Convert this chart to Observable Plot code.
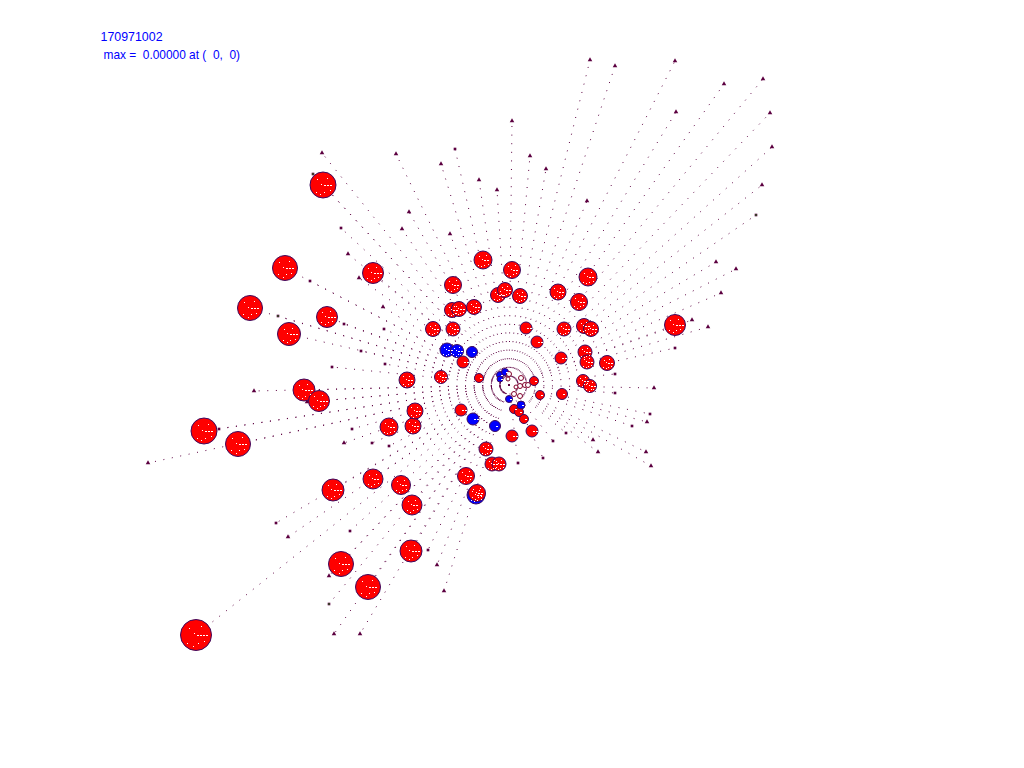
<!DOCTYPE html>
<html><head><meta charset="utf-8">
<style>html,body{margin:0;padding:0;background:#fff}svg{display:block}</style>
<script src="https://cdn.jsdelivr.net/npm/d3@7"></script>
<script src="https://cdn.jsdelivr.net/npm/@observablehq/plot@0.6"></script>
</head><body><div id="c"></div>
<script>
const sourceId = "170971002";
const maxLabel = "max =  0.00000 at (  0,  0)";
const origin = [509, 385];
const redSpots = [[323,185,13],[285,268,12.5],[373,273,10.5],[250,308,12.5],[327,317,10.5],[289,334,11.5],[304,390,11],[319,401,10.5],[204,431,13],[238,444,12.5],[407,380,8],[389,427,9],[413,426,8],[415,411,8],[441,377,6.5],[333,490,11],[373,479,10],[401,485,9.5],[412,505,10],[466,476,8.5],[477,493,8.5],[411,551,11],[341,564,12.5],[368,587,12.5],[196,635,15.5],[483,260,9],[512,270,8.5],[453,285,8.5],[588,277,9],[558,292,8],[579,302,8.5],[498,295,7.5],[505,290,7.5],[520,296,7.5],[452,310,7.5],[459,309,7.5],[474,307,7.5],[433,329,7.5],[453,329,7],[526,328,6],[564,329,7],[584,326,7.5],[591,329,7.5],[675,325,10.5],[537,342,6],[561,358,6],[585,352,7],[587,362,7],[607,363,7.5],[583,381,6.5],[590,386,6.5],[562,394,5.5],[463,362,6],[479,378,4.5],[461,410,6],[486,449,7],[512,436,6],[532,431,6],[492,464,7],[499,464,7],[540,395,4.5],[514,409,4.5],[519,412,4.5],[524,419,4.5],[534,381,4.5]];
const blueSpots = [[447,350,7],[457,351,6.5],[472,352,5.5],[473,419,6],[495,426,5.5],[476,495,9],[500,375,3.5],[500,379,3],[505,372,3.5],[509,399,3.5],[521,405,4]];
const hollowSpots = [[521,378,2.5],[520,386,2.5],[525,385,2.5],[528,385,2.5],[514,394,2.5],[520,396,2.5],[509,374,2.5],[508,379,2],[516,387,2]];
const triangleTips = [[590,60],[615,66],[675,61],[724,84],[763,79],[770,113],[772,147],[676,112],[762,185],[587,201],[716,262],[736,269],[721,293],[692,320],[708,327],[654,388],[647,422],[593,440],[598,452],[646,452],[651,466],[396,154],[441,164],[530,156],[546,169],[479,180],[497,190],[409,212],[402,229],[450,234],[512,121],[322,153],[348,254],[359,278],[383,307],[254,391],[307,402],[344,443],[148,463],[288,537],[329,576],[437,565],[444,591],[334,634],[360,634]];
const squareTips = [[341,228],[310,281],[344,324],[332,367],[385,364],[361,351],[219,429],[352,429],[372,443],[389,446],[350,531],[428,550],[384,329],[615,374],[615,393],[566,433],[632,426],[650,414],[553,441],[543,458],[675,348],[518,463],[276,523],[329,604],[313,174],[278,316],[756,215],[455,149]];
const greenTips = [[313,174],[278,316],[329,604],[756,215]];

const spots = [...blueSpots.slice(0,6).map(d=>[...d,"#0000ff"]),...redSpots.map(d=>[...d,"#ff0000"]),...blueSpots.slice(6).map(d=>[...d,"#0000ff"])];
const rayEnds = [...triangleTips,...squareTips,...redSpots.filter(d=>d[2]>=10)];
const speckle = {draw(ctx,size){
  const r=Math.sqrt(size/Math.PI);
  for(let p=1;p<r*0.7;p+=3)ctx.rect(Math.round(p),0,2,1);
  [[-.45,-.45],[.3,-.55],[-.15,-.1],[.5,.4],[-.55,.5],[-.2,.7],[.1,.5]].forEach(([a,b])=>{if(r>6)ctx.rect(Math.round(a*r),Math.round(b*r),1,1)});
}};
const ink="#5c0040", rim="#3c0a60";
const crisp={shapeRendering:"crispEdges"};
const chart = Plot.plot({
  width:1024,height:768,margin:0,
  x:{domain:[0.5,1024.5],range:[0,1024],axis:null},
  y:{domain:[0.5,768.5],range:[0,768],axis:null},
  r:{type:"identity"},
  marks:[
    Plot.link(rayEnds,{x1:()=>origin[0],y1:()=>origin[1],x2:d=>d[0],y2:d=>d[1],stroke:ink,strokeWidth:1,strokeDasharray:"1,7.6",style:crisp}),
    Plot.dot(triangleTips,{x:d=>d[0],y:d=>d[1],symbol:"triangle",r:1.7,fill:ink,stroke:"none"}),
    Plot.dot(squareTips,{x:d=>d[0],y:d=>d[1],symbol:"square",r:1.5,fill:ink,stroke:"none",style:crisp}),
    Plot.dot(greenTips,{x:d=>d[0],y:d=>d[1],r:0.7,fill:"#00a000",stroke:"none",style:crisp}),
    Plot.dot(spots,{x:d=>d[0],y:d=>d[1],r:d=>d[2],fill:d=>d[3],stroke:rim,strokeWidth:1,style:crisp}),
    Plot.dot(hollowSpots,{x:d=>d[0],y:d=>d[1],r:d=>d[2],fill:"#fff",stroke:"#80002a",strokeWidth:1,style:crisp}),
    Plot.dot(spots,{x:d=>d[0],y:d=>d[1],r:d=>d[2],symbol:speckle,fill:"#fff",stroke:"none",style:crisp}),
    Plot.text([sourceId],{x:()=>100.5,y:()=>37,text:d=>d,textAnchor:"start",fill:"#0000ff",fontSize:12.4,fontFamily:"Liberation Sans"}),
    Plot.text([maxLabel],{x:()=>103.5,y:()=>55,text:d=>d,textAnchor:"start",fill:"#0000ff",fontSize:11.9,fontFamily:"Liberation Sans",style:{whiteSpace:"pre"}})
  ]
});
chart.style.whiteSpace="pre";
document.getElementById("c").append(chart);
</script></body></html>
